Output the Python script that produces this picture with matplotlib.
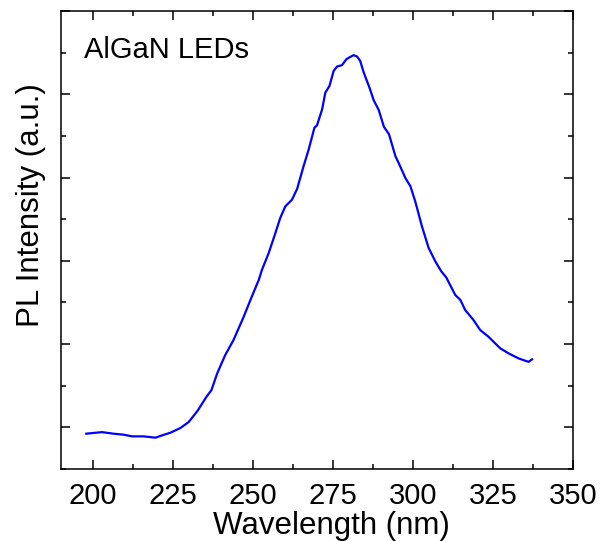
import matplotlib
matplotlib.use("Agg")
import matplotlib.pyplot as plt
from matplotlib.ticker import MultipleLocator, NullFormatter

plt.rcParams['font.family'] = ['Liberation Sans', 'DejaVu Sans']

wavelength = [197.9, 202.8, 206.4, 209.6, 212.2, 215.8, 219.5, 221.6, 224.2, 227.3,
              229.9, 232.7, 235.5, 237.0, 238.8, 241.3, 243.9, 247.1, 249.2, 251.8,
              252.8, 254.9, 257.0, 258.5, 260.1, 262.2, 263.8, 265.8, 267.4, 269.2,
              270.0, 271.6, 272.6, 273.9, 275.2, 276.3, 277.8, 279.2, 281.4, 282.5,
              283.5, 284.6, 286.4, 287.7, 289.3, 290.9, 292.5, 294.5, 295.5, 297.6,
              299.2, 300.7, 302.8, 304.9, 307.0, 308.8, 310.4, 312.0, 313.2, 314.8,
              316.3, 318.9, 321.0, 323.6, 325.7, 327.3, 329.9, 333.0, 336.1, 337.2]
intensity = [-0.076, -0.057, -0.076, -0.088, -0.108, -0.108, -0.124, -0.096, -0.064, -0.008,
             0.064, 0.20, 0.37, 0.446, 0.647, 0.867, 1.048, 1.329, 1.530, 1.771,
             1.892, 2.093, 2.334, 2.514, 2.654, 2.735, 2.865, 3.136, 3.337, 3.599,
             3.627, 3.819, 4.020, 4.100, 4.281, 4.334, 4.349, 4.422, 4.470, 4.454,
             4.401, 4.261, 4.08, 3.93, 3.81, 3.61, 3.52, 3.257, 3.177, 2.996,
             2.895, 2.714, 2.413, 2.153, 1.992, 1.876, 1.80, 1.68, 1.590, 1.530,
             1.410, 1.289, 1.169, 1.088, 1.008, 0.948, 0.888, 0.828, 0.787, 0.816]
xticks = [200, 225, 250, 275, 300, 325, 350]

W, H = 602, 541
fig = plt.figure(figsize=(W / 100, H / 100), dpi=100)
ax = fig.add_axes([61 / W, 1 - 469 / H, (573 - 61) / W, (469 - 11) / H])

ax.plot(wavelength, intensity, color='#0000FF', lw=1.6)

ax.set_xlim(190, 350)
ax.set_ylim(-0.5, 5.0)
ax.set_xticks(xticks)
ax.xaxis.set_minor_locator(MultipleLocator(12.5))
ax.yaxis.set_major_locator(MultipleLocator(1))
ax.yaxis.set_minor_locator(MultipleLocator(0.5))
ax.yaxis.set_major_formatter(NullFormatter())

ax.tick_params(which='both', direction='in', top=True, right=True, width=1.1, colors='black')
ax.tick_params(which='major', length=6.5)
ax.tick_params(which='minor', length=3.6)
ax.tick_params(axis='x', which='major', labelsize=21, pad=9)
for s in ax.spines.values():
    s.set_linewidth(1.1)

ax.set_xlabel('Wavelength (nm)', fontsize=22.5, labelpad=1)
ax.set_ylabel('PL Intensity (a.u.)', fontsize=22.5, labelpad=7.5)
ax.xaxis.label.set_x(0.529)
ax.yaxis.label.set_y(0.576)
ax.text(0.045, 0.897, 'AlGaN LEDs', transform=ax.transAxes, fontsize=21,
        ha='left', va='baseline')

fig.savefig('out.png', dpi=100)
